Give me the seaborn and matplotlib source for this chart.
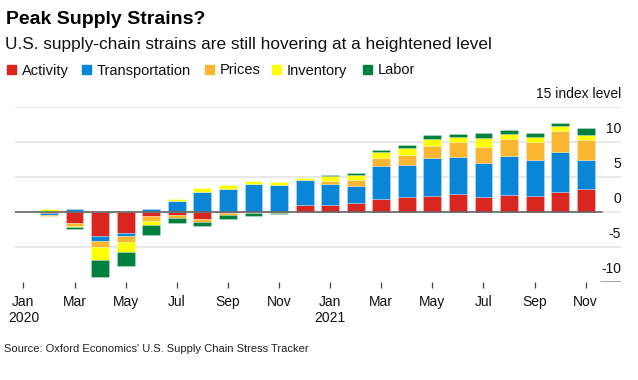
import matplotlib.pyplot as plt
import matplotlib.transforms as mtransforms
import numpy as np
import pandas as pd
import seaborn as sns
from matplotlib.patches import Rectangle

sns.set_theme(style="white")
plt.rcParams["font.family"] = ["Liberation Sans", "DejaVu Sans"]

# --- data ---------------------------------------------------------------------
months = [
    "Jan 2020", "Feb 2020", "Mar 2020", "Apr 2020", "May 2020", "Jun 2020",
    "Jul 2020", "Aug 2020", "Sep 2020", "Oct 2020", "Nov 2020", "Dec 2020",
    "Jan 2021", "Feb 2021", "Mar 2021", "Apr 2021", "May 2021", "Jun 2021",
    "Jul 2021", "Aug 2021", "Sep 2021", "Oct 2021", "Nov 2021",
]
tick_labels = ["Jan\n2020", "Mar", "May", "Jul", "Sep", "Nov",
               "Jan\n2021", "Mar", "May", "Jul", "Sep", "Nov"]

activity = [0, -0.25, -1.65, -3.45, -3.05, -0.6, -0.5, -1.05, -0.22, -0.08, -0.1, 0.9,
            0.92, 1.18, 1.78, 2.17, 2.31, 2.6, 2.17, 2.45, 2.31, 2.88, 3.18]
transportation = [0, -0.25, 0.35, -0.7, -0.42, 0.33, 1.6, 2.76, 3.3, 3.9, 3.75, 3.6,
                  3.07, 2.5, 4.73, 4.48, 5.33, 5.19, 4.76, 5.47, 5.05, 5.61, 4.18]
prices = [0, -0.18, -0.4, -0.85, -0.86, -0.7, -0.4, -0.38, -0.28, -0.1, -0.1, 0,
          0.4, 0.82, 1.13, 1.42, 1.7, 2.12, 2.26, 2.52, 2.64, 3.11, 2.83]
inventory = [0, 0.35, -0.2, -1.85, -1.43, -0.56, 0.2, 0.57, 0.45, 0.48, 0.43, 0.38,
             0.66, 0.71, 0.85, 1.08, 1.1, 0.82, 1.4, 0.73, 0.61, 0.66, 0.82]
labor = [0, 0, -0.25, -2.52, -1.95, -1.42, -0.75, -0.65, -0.52, -0.42, -0.15, 0,
         0.24, 0.35, 0.33, 0.35, 0.45, 0.3, 0.6, 0.55, 0.57, 0.45, 0.88]

components = ["Activity", "Transportation", "Prices", "Inventory", "Labor"]
colors = ["#d9261f", "#0a86d8", "#fbb631", "#ffff00", "#00803e"]
y_ticks = [15, 10, 5, 0, -5, -10]

df = pd.DataFrame({"month": months, "Activity": activity, "Transportation": transportation,
                   "Prices": prices, "Inventory": inventory, "Labor": labor})

# --- figure --------------------------------------------------------------------
W, H = 638, 380
fig = plt.figure(figsize=(W / 100, H / 100), dpi=100)
ax = fig.add_axes([15 / W, 1 - 281.7 / H, 606 / W, 175 / H])

# gridlines under the bars
for v in [15, 10, 5, 0, -5]:
    ax.axhline(v, color="#e2e2e2", lw=1.1, zorder=0)
ax.axhline(-10, xmin=(601 - 15) / 606, xmax=1, color="#888888", lw=1.1, zorder=0)

# diverging stacks: positives build up from zero, negatives build down
pos_base = np.zeros(len(months))
neg_base = np.zeros(len(months))
for name, color in zip(components, colors):
    vals = df[name].to_numpy(dtype=float)
    base = np.where(vals >= 0, pos_base, neg_base)
    sns.barplot(data=df, x="month", y=name, order=months, bottom=base,
                color=color, width=0.7, errorbar=None, saturation=1,
                edgecolor=(1, 1, 1, 0.35), linewidth=0.5, ax=ax, zorder=2)
    pos_base += np.clip(vals, 0, None)
    neg_base += np.clip(vals, None, 0)

ax.axhline(0, xmin=0, xmax=(602 - 15) / 606, color="#666666", lw=1.2, zorder=3)

ax.set_xlim(-0.33, 23.38)
ax.set_ylim(-10, 15)
ax.set_xlabel("")
ax.set_ylabel("")
sns.despine(ax=ax, left=True, bottom=True)
ax.set_yticks([])
ax.set_xticks(range(0, len(months), 2))
ax.set_xticklabels(tick_labels, fontsize=10, color="#111111")
ax.tick_params(axis="x", length=4.5, width=0.9, color="#444444", pad=5, bottom=True)

# right-hand value labels sit just above their gridlines
trans = mtransforms.blended_transform_factory(ax.transAxes, ax.transData)
for v in y_ticks:
    label = "15 index level" if v == 15 else str(v)
    ax.annotate(label, xy=(1, v), xycoords=trans, xytext=(0, 6),
                textcoords="offset points", ha="right", va="baseline",
                fontsize=10, color="#111111")

# titles, legend, source
fig.text(6 / W, 1 - 24 / H, "Peak Supply Strains?", fontsize=14,
         fontweight="bold", color="#000000", va="baseline")
fig.text(5 / W, 1 - 49 / H,
         "U.S. supply-chain strains are still hovering at a heightened level",
         fontsize=12.45, color="#111111", va="baseline")

legend_x = [7, 82, 205, 272, 363]
for x0, name, color in zip(legend_x, components, colors):
    fig.patches.append(Rectangle((x0 / W, 1 - 74 / H), 9.3 / W, 9.3 / H,
                                 transform=fig.transFigure, color=color))
    fig.text((x0 + 14.8) / W, 1 - 74.5 / H, name, fontsize=10.5,
             color="#111111", va="baseline")

fig.text(4 / W, 1 - 352 / H,
         "Source: Oxford Economics' U.S. Supply Chain Stress Tracker",
         fontsize=8.0, color="#222222", va="baseline")

fig.savefig("out.png", dpi=100)
